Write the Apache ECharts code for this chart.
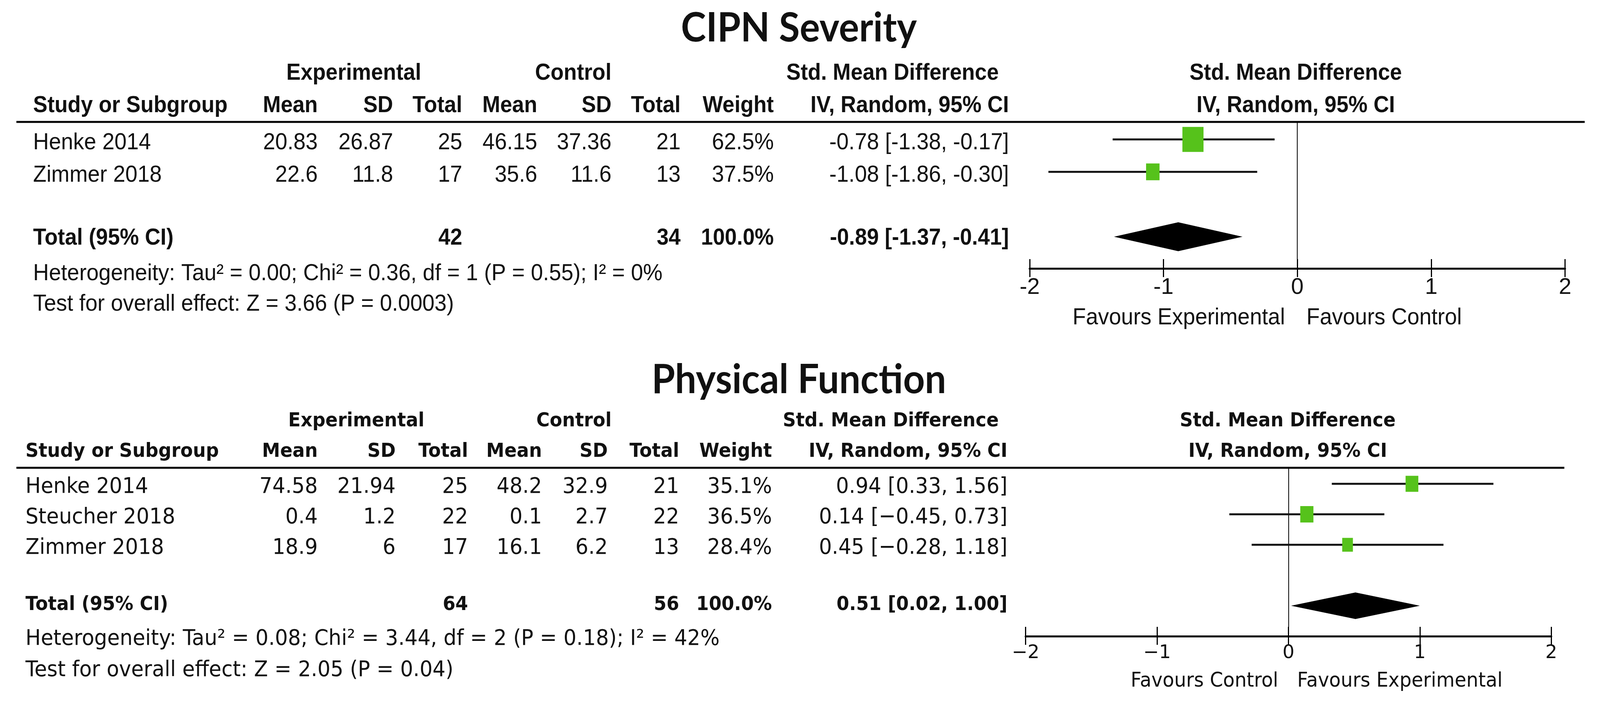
<!DOCTYPE html>
<html>
<head>
<meta charset="utf-8">
<script src="https://cdn.jsdelivr.net/npm/echarts@6/dist/echarts.min.js"></script>
<style>html,body{margin:0;padding:0;background:#fff;overflow:hidden}#c{width:100vw;height:100vh}</style>
</head>
<body>
<div id="c"></div>
<script>
// ---------------- DATA: CIPN Severity ----------------
const cipnTitle = 'CIPN Severity';
const cipnStudies = ['Henke 2014', 'Zimmer 2018'];
const cipnExpMean = [20.83, 22.6];
const cipnExpSD = [26.87, 11.8];
const cipnExpN = [25, 17];
const cipnCtlMean = [46.15, 35.6];
const cipnCtlSD = [37.36, 11.6];
const cipnCtlN = [21, 13];
const cipnWeight = [62.5, 37.5];
const cipnSMD = [-0.78, -1.08];
const cipnLo = [-1.38, -1.86];
const cipnHi = [-0.17, -0.30];
const cipnTotalN = [42, 34];
const cipnTotalEffect = [-0.89, -1.37, -0.41]; // estimate, lower, upper
const cipnNotes = ['Heterogeneity: Tau\u00b2 = 0.00; Chi\u00b2 = 0.36, df = 1 (P = 0.55); I\u00b2 = 0%', 'Test for overall effect: Z = 3.66 (P = 0.0003)'];
const cipnTicks = ['-2', '-1', '0', '1', '2'];
const cipnFavours = ['Favours Experimental', 'Favours Control'];

// ---------------- DATA: Physical Function ----------------
const physTitle = 'Physical Function';
const physStudies = ['Henke 2014', 'Steucher 2018', 'Zimmer 2018'];
const physExpMean = [74.58, 0.4, 18.9];
const physExpSD = [21.94, 1.2, 6];
const physExpN = [25, 22, 17];
const physCtlMean = [48.2, 0.1, 16.1];
const physCtlSD = [32.9, 2.7, 6.2];
const physCtlN = [21, 22, 13];
const physWeight = [35.1, 36.5, 28.4];
const physSMD = [0.94, 0.14, 0.45];
const physLo = [0.33, -0.45, -0.28];
const physHi = [1.56, 0.73, 1.18];
const physTotalN = [64, 56];
const physTotalEffect = [0.51, 0.02, 1.00];
const physNotes = ['Heterogeneity: Tau\u00b2 = 0.08; Chi\u00b2 = 3.44, df = 2 (P = 0.18); I\u00b2 = 42%', 'Test for overall effect: Z = 2.05 (P = 0.04)'];
const physTicks = ['\u22122', '\u22121', '0', '1', '2'];
const physFavours = ['Favours Control', 'Favours Experimental'];

const colHeads = ['Mean', 'SD', 'Total', 'Mean', 'SD', 'Total', 'Weight', 'IV, Random, 95% CI'];

// ---------------- LAYOUT (designed on a 4396 x 1804 canvas, fitted to the viewport) ----------------
const el = document.getElementById('c');
const W = el.clientWidth || window.innerWidth, H = el.clientHeight || window.innerHeight;
const SX = W / 4396, SY = H / 1804;
const X = v => v * SX, Y = v => v * SY;

const P1 = {
  title: cipnTitle, studies: cipnStudies, cols: [cipnExpMean, cipnExpSD, cipnExpN, cipnCtlMean, cipnCtlSD, cipnCtlN],
  weight: cipnWeight, smd: cipnSMD, lo: cipnLo, hi: cipnHi, totalN: cipnTotalN, total: cipnTotalEffect,
  notes: cipnNotes, ticks: cipnTicks, favours: cipnFavours, minus: '-',
  left: 2829, width: 1471, top: 312, height: 375, rowPx: 83, yMin: 0.46,
  font: '"Liberation Sans", Arial, sans-serif', reg: 60, bold: 59, tickSize: 58, favSize: 60,
  titleY: 72, head1Y: 188, head2Y: 271, nameX: 91,
  colX: [873, 1080, 1270, 1476, 1680, 1870, 2126, 2772], expX: 972, ctlX: 1575, smdHeadRight: 2744, forestHeadX: 3560,
  lineX2: 4354, textDy: 9, totalY: 610, noteY: [700, 778], favY: 813, favGap: [34, 25], diamondH: 37
};
const P2 = {
  title: physTitle, studies: physStudies, cols: [physExpMean, physExpSD, physExpN, physCtlMean, physCtlSD, physCtlN],
  weight: physWeight, smd: physSMD, lo: physLo, hi: physHi, totalN: physTotalN, total: physTotalEffect,
  notes: physNotes, ticks: physTicks, favours: physFavours, minus: '\u2212',
  left: 2818, width: 1444, top: 1197, height: 431, rowPx: 78, yMin: 0.474,
  font: '"DejaVu Sans", Verdana, sans-serif', reg: 56, bold: 50, tickSize: 48, favSize: 52,
  titleY: 972, head1Y: 1078, head2Y: 1156, nameX: 70,
  colX: [873, 1087, 1286, 1489, 1670, 1866, 2121, 2768], expX: 979, ctlX: 1577, smdHeadRight: 2744, forestHeadX: 3538,
  lineX2: 4298, textDy: 8, totalY: 1548, noteY: [1635, 1715], favY: 1743, favGap: [28, 24], diamondH: 34
};
const PANELS = [P1, P2];
const GREEN = '#56C21B';
const INK = '#111';
const TITLE_FONT = '"Lato", "Open Sans", sans-serif';

function fmtCI(p, e, l, h) {
  const f = v => v.toFixed(2).replace('-', p.minus);
  return f(e) + ' [' + f(l) + ', ' + f(h) + ']';
}
function rowPix(p, r) { return p.top + (r - p.yMin) * p.rowPx; }
function txt(x, y, text, font, align) {
  return { type: 'text', x: X(x), y: Y(y), scaleX: SX, scaleY: SY, silent: true, z: 10,
    style: { text: text, font: font, fill: INK, align: align, verticalAlign: 'middle', textAlign: align, textVerticalAlign: 'middle' } };
}

const grids = [], xAxes = [], yAxes = [], series = [], graphics = [];

PANELS.forEach((p, k) => {
  const reg = p.reg + 'px ' + p.font;
  const bold = 'bold ' + p.bold + 'px ' + p.font;
  grids.push({ left: X(p.left), top: Y(p.top), width: X(p.width), height: Y(p.height), containLabel: false, outerBoundsMode: 'none' });
  const labelFmt = v => p.ticks[Math.round(v) + 2];
  xAxes.push({ gridIndex: k, type: 'value', min: -2, max: 2, interval: 1, position: 'bottom',
    axisLine: { show: true, onZero: false, lineStyle: { color: '#000', width: 5 } },
    axisTick: { show: true, inside: false, length: 22, lineStyle: { color: '#000', width: 3 } },
    axisLabel: { show: true, formatter: labelFmt, color: INK, fontFamily: p.font, fontSize: p.tickSize, margin: 20 },
    splitLine: { show: false } });
  xAxes.push({ gridIndex: k, type: 'value', min: -2, max: 2, interval: 1, position: 'bottom',
    axisLine: { show: false }, axisTick: { show: true, inside: true, length: 24, lineStyle: { color: '#000', width: 3 } },
    axisLabel: { show: false }, splitLine: { show: false } });
  const yMax = p.yMin + p.height / p.rowPx;
  yAxes.push({ gridIndex: k, type: 'value', min: p.yMin, max: yMax, inverse: true, show: false });

  const xi = k * 2, yi = k;
  const totalRow = p.studies.length + 2;
  // CI whiskers
  series.push({ type: 'custom', xAxisIndex: xi, yAxisIndex: yi, z: 3,
    data: p.studies.map((s, i) => [p.lo[i], p.hi[i], i + 1]),
    encode: { x: [0, 1], y: 2 },
    renderItem: (params, api) => {
      const a = api.coord([api.value(0), api.value(2)]);
      const b = api.coord([api.value(1), api.value(2)]);
      return { type: 'line', shape: { x1: a[0], y1: a[1], x2: b[0], y2: b[1] }, style: { stroke: INK, lineWidth: 5 } };
    } });
  // squares (size from weight) + zero line
  series.push({ type: 'scatter', xAxisIndex: xi, yAxisIndex: yi, z: 4,
    data: p.studies.map((s, i) => [p.smd[i], i + 1, p.weight[i]]),
    symbol: 'rect',
    symbolSize: v => { const s = 9.5 + 0.84 * v[2]; return [(s - 4) * SX, (s + 2) * SY]; },
    itemStyle: { color: GREEN, opacity: 1 },
    markLine: { silent: true, symbol: 'none', z: 2, label: { show: false },
      lineStyle: { color: '#000', width: 2, type: 'solid' }, data: [{ xAxis: 0 }] } });
  // pooled diamond
  series.push({ type: 'custom', xAxisIndex: xi, yAxisIndex: yi, z: 4,
    data: [[p.total[1], p.total[0], p.total[2], totalRow]],
    encode: { x: [0, 1, 2], y: 3 },
    renderItem: (params, api) => {
      const y = api.value(3);
      const l = api.coord([api.value(0), y]), m = api.coord([api.value(1), y]), h = api.coord([api.value(2), y]);
      const d = Y(p.diamondH);
      return { type: 'polygon', shape: { points: [[l[0], l[1]], [m[0], m[1] - d], [h[0], h[1]], [m[0], m[1] + d]] }, style: { fill: '#000' } };
    } });

  // ---- table text ----
  graphics.push(txt(2195, p.titleY, p.title, 'bold 104px ' + TITLE_FONT, 'center'));
  graphics.push(txt(p.expX, p.head1Y, 'Experimental', bold, 'center'));
  graphics.push(txt(p.ctlX, p.head1Y, 'Control', bold, 'center'));
  graphics.push(txt(p.smdHeadRight, p.head1Y, 'Std. Mean Difference', bold, 'right'));
  graphics.push(txt(p.forestHeadX, p.head1Y, 'Std. Mean Difference', bold, 'center'));
  graphics.push(txt(p.nameX, p.head2Y, 'Study or Subgroup', bold, 'left'));
  colHeads.forEach((h, j) => graphics.push(txt(p.colX[j], p.head2Y, h, bold, 'right')));
  graphics.push(txt(p.forestHeadX, p.head2Y, 'IV, Random, 95% CI', bold, 'center'));
  graphics.push({ type: 'line', silent: true, z: 10, shape: { x1: X(45), y1: Y(p.top), x2: X(p.lineX2), y2: Y(p.top) }, style: { stroke: '#000', lineWidth: 5 } });

  p.studies.forEach((s, i) => {
    const y = rowPix(p, i + 1) + p.textDy;
    graphics.push(txt(p.nameX, y, s, reg, 'left'));
    p.cols.forEach((col, j) => graphics.push(txt(p.colX[j], y, String(col[i]), reg, 'right')));
    graphics.push(txt(p.colX[6], y, p.weight[i].toFixed(1) + '%', reg, 'right'));
    graphics.push(txt(p.colX[7], y, fmtCI(p, p.smd[i], p.lo[i], p.hi[i]), reg, 'right'));
  });
  graphics.push(txt(p.nameX, p.totalY, 'Total (95% CI)', bold, 'left'));
  graphics.push(txt(p.colX[2], p.totalY, String(p.totalN[0]), bold, 'right'));
  graphics.push(txt(p.colX[5], p.totalY, String(p.totalN[1]), bold, 'right'));
  graphics.push(txt(p.colX[6], p.totalY, '100.0%', bold, 'right'));
  graphics.push(txt(p.colX[7], p.totalY, fmtCI(p, p.total[0], p.total[1], p.total[2]), bold, 'right'));
  p.notes.forEach((n, j) => graphics.push(txt(p.nameX, p.noteY[j], n, reg, 'left')));

  const zeroX = p.left + p.width / 2;
  const favFont = p.favSize + 'px ' + p.font;
  graphics.push(txt(zeroX - p.favGap[0], p.favY, p.favours[0], favFont, 'right'));
  graphics.push(txt(zeroX + p.favGap[1], p.favY, p.favours[1], favFont, 'left'));
});

const chart = echarts.init(el, null, { renderer: 'canvas' });
chart.setOption({
  backgroundColor: '#fff',
  animation: false,
  grid: grids,
  xAxis: xAxes,
  yAxis: yAxes,
  series: series,
  graphic: graphics
});
</script>
</body>
</html>
